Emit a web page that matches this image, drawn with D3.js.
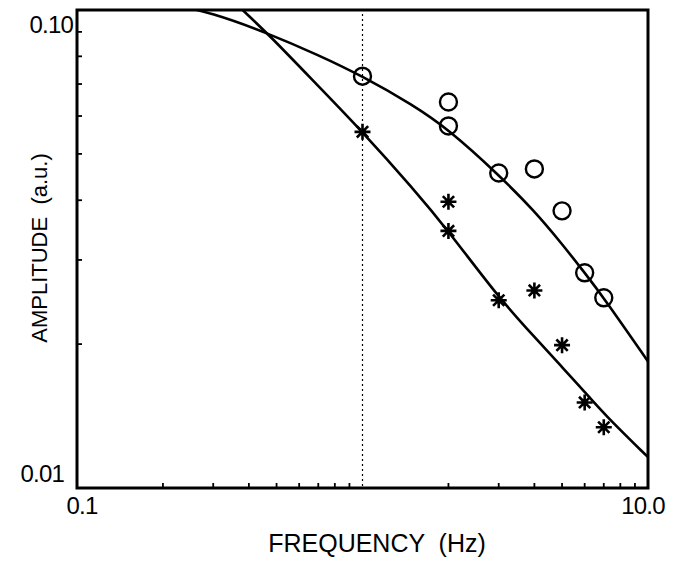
<!DOCTYPE html>
<html>
<head>
<meta charset="utf-8">
<script src="https://cdn.jsdelivr.net/npm/d3@7"></script>
<style>
  html, body { margin: 0; padding: 0; background: #fff; }
  svg { display: block; }
</style>
</head>
<body>
<div id="chart"></div>
<script>
// measured points, frequency in Hz, amplitude in a.u.
const circleFreq = [1.0, 2.0, 2.0, 3.0, 4.0, 5.0, 6.0, 7.0];
const circleAmp  = [0.0727, 0.0642, 0.0572, 0.0456, 0.0465, 0.0380, 0.0282, 0.0250];

const starFreq = [1.0, 2.0, 2.0, 3.0, 4.0, 5.0, 6.0, 7.0];
const starAmp  = [0.0556, 0.0397, 0.0345, 0.0247, 0.0259, 0.0199, 0.0151, 0.0134];

// fitted curves
const upperFreq = [0.1, 0.2, 0.3, 0.464, 0.7, 1.0, 1.5, 2.0, 3.0, 4.0, 5.0, 6.0, 7.0, 10.0];
const upperAmp  = [0.112, 0.104, 0.0985, 0.0895, 0.0805, 0.0727, 0.0633, 0.0563, 0.0452, 0.0380, 0.0324, 0.0282, 0.0250, 0.0184];

const lowerFreq = [0.3, 0.379, 0.464, 0.7, 1.0, 1.5, 2.0, 3.0, 4.0, 5.0, 6.0, 7.0, 10.0];
const lowerAmp  = [0.115, 0.100, 0.0895, 0.0693, 0.0556, 0.0424, 0.0345, 0.0250, 0.0207, 0.0179, 0.0159, 0.0143, 0.0116];

const markerFreq = 1.0;   // dotted vertical line

const xTickLabels = ["0.1", "10.0"];
const yTickLabels = ["0.01", "0.10"];

const width = 673;
const height = 564;
const plotLeft = 77, plotRight = 648, plotTop = 10, plotBottom = 488;
const font = "'Liberation Sans', Arial, sans-serif";

const x = d3.scaleLog().domain([0.1, 10]).range([plotLeft, plotRight]);
const y = d3.scaleLog().domain([0.01, 0.1]).range([plotBottom, plotTop]);

const svg = d3.select("#chart").append("svg")
    .attr("width", width)
    .attr("height", height);

svg.append("defs").append("clipPath")
    .attr("id", "plot")
    .append("rect")
    .attr("x", plotLeft).attr("y", plotTop)
    .attr("width", plotRight - plotLeft).attr("height", plotBottom - plotTop);

// minor ticks, pointing inward
const xMinor = d3.range(2, 10).map(d => d / 10).concat(d3.range(2, 10));
const yMinor = d3.range(2, 10).map(d => d / 100);

svg.append("g")
    .attr("stroke", "#000")
    .attr("stroke-width", 1.8)
    .selectAll("line")
    .data(xMinor)
    .join("line")
    .attr("x1", d => x(d)).attr("x2", d => x(d))
    .attr("y1", plotBottom).attr("y2", plotBottom - 5);

svg.append("g")
    .attr("stroke", "#000")
    .attr("stroke-width", 1.8)
    .selectAll("line")
    .data(yMinor)
    .join("line")
    .attr("x1", plotLeft).attr("x2", plotLeft + 5)
    .attr("y1", d => y(d)).attr("y2", d => y(d));

// dotted line at 1 Hz
svg.append("line")
    .attr("x1", x(markerFreq)).attr("x2", x(markerFreq))
    .attr("y1", plotTop + 4).attr("y2", plotBottom)
    .attr("stroke", "#000")
    .attr("stroke-width", 1.2)
    .attr("stroke-dasharray", "2,3");

// curves
const line = d3.line()
    .x(d => x(d[0]))
    .y(d => y(d[1]))
    .curve(d3.curveBasis);

const curves = svg.append("g")
    .attr("clip-path", "url(#plot)")
    .attr("fill", "none")
    .attr("stroke", "#000")
    .attr("stroke-width", 2.6);

curves.append("path").attr("d", line(d3.zip(upperFreq, upperAmp)));
curves.append("path").attr("d", line(d3.zip(lowerFreq, lowerAmp)));

// circle markers
svg.append("g")
    .attr("fill", "none")
    .attr("stroke", "#000")
    .attr("stroke-width", 2.4)
    .selectAll("circle")
    .data(d3.zip(circleFreq, circleAmp))
    .join("circle")
    .attr("cx", d => x(d[0]))
    .attr("cy", d => y(d[1]))
    .attr("r", 8.5);

// asterisk markers
const star = d3.symbol().type({
    draw(ctx, size) {
        const r = Math.sqrt(size) / 2;
        for (let i = 0; i < 4; i++) {
            const a = i * Math.PI / 4;
            ctx.moveTo(-r * Math.cos(a), -r * Math.sin(a));
            ctx.lineTo(r * Math.cos(a), r * Math.sin(a));
        }
    }
}).size(256);

svg.append("g")
    .attr("fill", "none")
    .attr("stroke", "#000")
    .attr("stroke-width", 2.6)
    .selectAll("path")
    .data(d3.zip(starFreq, starAmp))
    .join("path")
    .attr("transform", d => `translate(${x(d[0])},${y(d[1])})`)
    .attr("d", star);

// frame
svg.append("rect")
    .attr("x", plotLeft).attr("y", plotTop)
    .attr("width", plotRight - plotLeft).attr("height", plotBottom - plotTop)
    .attr("fill", "none")
    .attr("stroke", "#000")
    .attr("stroke-width", 3);

// tick labels
svg.append("g")
    .attr("font-family", font)
    .attr("font-size", 24)
    .attr("text-anchor", "middle")
    .selectAll("text")
    .data(xTickLabels)
    .join("text")
    .attr("x", (d, i) => x(+d) + (i === 0 ? 5 : -5))
    .attr("y", 514)
    .attr("letter-spacing", -0.8)
    .text(d => d);

svg.append("g")
    .attr("font-family", font)
    .attr("font-size", 24)
    .attr("text-anchor", "end")
    .selectAll("text")
    .data(yTickLabels)
    .join("text")
    .attr("x", (d, i) => i === 0 ? 64 : 73)
    .attr("y", (d, i) => i === 0 ? 482 : 33)
    .attr("letter-spacing", -0.8)
    .text(d => d);

// axis titles
svg.append("text")
    .attr("x", 377)
    .attr("y", 552)
    .attr("text-anchor", "middle")
    .attr("font-family", font)
    .attr("font-size", 25)
    .attr("xml:space", "preserve")
    .style("white-space", "pre")
    .text("FREQUENCY  (Hz)");

svg.append("text")
    .attr("transform", "translate(47,248) rotate(-90)")
    .attr("text-anchor", "middle")
    .attr("font-family", font)
    .attr("font-size", 22)
    .attr("xml:space", "preserve")
    .style("white-space", "pre")
    .text("AMPLITUDE  (a.u.)");
</script>
</body>
</html>
